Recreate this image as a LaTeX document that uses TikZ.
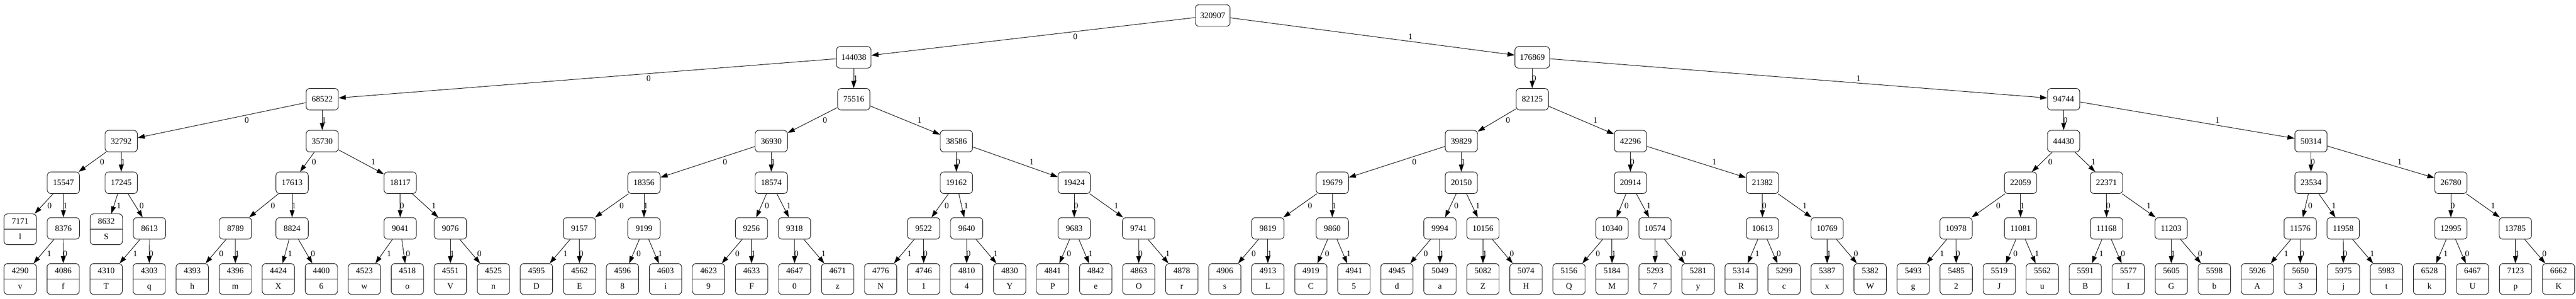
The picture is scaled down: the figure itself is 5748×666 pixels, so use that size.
\documentclass[tikz,border=0pt]{standalone}
\usepackage{fontspec}
\setmainfont{Liberation Serif}
\usetikzlibrary{arrows.meta,shapes.multipart,calc}
\tikzset{
  inode/.style={draw, line width=0.8pt, rounded corners=6pt, minimum width=54pt, minimum height=36pt, inner xsep=8pt, inner ysep=0pt},
  lnode/.style={draw, line width=0.8pt, rounded corners=6pt, rectangle split, rectangle split parts=2, text width=54pt, align=center, inner sep=0pt, anchor=north},
  edge/.style={line width=0.8pt, -{Triangle[length=12pt,width=8pt]}},
  elab/.style={inner sep=0pt},
}
\newcommand\lfstrut{\rule[-8.5pt]{0pt}{25pt}}
\newcommand\inn[3]{\node[inode] (n#3) at (#1,#2) {#3};}
\newcommand\lf[4]{\node[lnode] (n#3) at (#1,#2) {\lfstrut#3\nodepart{two}\lfstrut#4};}
\newcommand\edg[3]{\draw[edge] (n#1) -- (n#2);
  \path let \p1=(n#1), \p2=(n#2), \n1={abs(\x2-\x1)/abs(\y2-\y1)} in
   node[elab] (e#1-#2) at ({(\x1+\x2)/2+7.5*\n1+ifthenelse(\n1>0.05,6,3)}, {(\y1+\y2)/2}) {#3};}
\begin{document}
\begin{tikzpicture}[x=0.75pt, y=-0.75pt, font=\fontsize{14pt}{16.8pt}\selectfont]
\useasboundingbox (0,0) rectangle (5748,666);
% level 0-2
\inn{2706}{34.6}{320907}
\inn{1905}{128}{144038}
\inn{3419}{128}{176869}
\inn{719}{221.3}{68522}
\inn{1905}{221.3}{75516}
\inn{3419}{221.3}{82125}
\inn{4604.7}{221.3}{94744}
% level 3
\inn{270.5}{314.8}{32792}
\inn{719}{314.8}{35730}
\inn{1721}{314.8}{36930}
\inn{2134}{314.8}{38586}
\inn{3260.7}{314.8}{39829}
\inn{3638}{314.8}{42296}
\inn{4604.7}{314.8}{44430}
\inn{5156.6}{314.8}{50314}
% level 4
\inn{141.5}{407.6}{15547}
\inn{270.5}{407.6}{17245}
\inn{651.8}{407.6}{17613}
\inn{893}{407.6}{18117}
\inn{1437}{407.6}{18356}
\inn{1721}{407.6}{18574}
\inn{2134}{407.6}{19162}
\inn{2397}{407.6}{19424}
\inn{2972.8}{407.6}{19679}
\inn{3260.7}{407.6}{20150}
\inn{3638}{407.6}{20914}
\inn{3932.6}{407.6}{21382}
\inn{4508.5}{407.6}{22059}
\inn{4700.4}{407.6}{22371}
\inn{5156.6}{407.6}{23534}
\inn{5468.7}{407.6}{26780}
% level 5
\inn{141.5}{509.3}{8376}
\inn{333.5}{509.3}{8613}
\inn{525.4}{509.3}{8789}
\inn{651.8}{509.3}{8824}
\inn{893}{509.3}{9041}
\inn{1005}{509.3}{9076}
\inn{1293}{509.3}{9157}
\inn{1437}{509.3}{9199}
\inn{1676.8}{509.3}{9256}
\inn{1772.8}{509.3}{9318}
\inn{2061}{509.3}{9522}
\inn{2157}{509.3}{9640}
\inn{2397}{509.3}{9683}
\inn{2540.6}{509.3}{9741}
\inn{2829}{509.3}{9819}
\inn{2972.8}{509.3}{9860}
\inn{3213}{509.3}{9994}
\inn{3309}{509.3}{10156}
\inn{3597}{509.3}{10340}
\inn{3693}{509.3}{10574}
\inn{3932.6}{509.3}{10613}
\inn{4076.8}{509.3}{10769}
\inn{4364.7}{509.3}{10978}
\inn{4508.5}{509.3}{11081}
\inn{4700.4}{509.3}{11168}
\inn{4844.6}{509.3}{11203}
\inn{5132.6}{509.3}{11576}
\inn{5228.5}{509.3}{11958}
\inn{5468.7}{509.3}{12995}
\inn{5612.5}{509.3}{13785}
\lf{45}{476.3}{7171}{l}
\lf{237.3}{476.3}{8632}{S}
% leaves level 6
\lf{45}{587.3}{4290}{v}
\lf{141}{587.3}{4086}{f}
\lf{237}{587.3}{4310}{T}
\lf{333}{587.3}{4303}{q}
\lf{429}{587.3}{4393}{h}
\lf{525}{587.3}{4396}{m}
\lf{621}{587.3}{4424}{X}
\lf{717}{587.3}{4400}{6}
\lf{813}{587.3}{4523}{w}
\lf{909}{587.3}{4518}{o}
\lf{1005}{587.3}{4551}{V}
\lf{1101}{587.3}{4525}{n}
\lf{1197}{587.3}{4595}{D}
\lf{1293}{587.3}{4562}{E}
\lf{1389}{587.3}{4596}{8}
\lf{1485}{587.3}{4603}{i}
\lf{1581}{587.3}{4623}{9}
\lf{1677}{587.3}{4633}{F}
\lf{1773}{587.3}{4647}{0}
\lf{1869}{587.3}{4671}{z}
\lf{1965}{587.3}{4776}{N}
\lf{2061}{587.3}{4746}{1}
\lf{2157}{587.3}{4810}{4}
\lf{2253}{587.3}{4830}{Y}
\lf{2349}{587.3}{4841}{P}
\lf{2445}{587.3}{4842}{e}
\lf{2541}{587.3}{4863}{O}
\lf{2637}{587.3}{4878}{r}
\lf{2733}{587.3}{4906}{s}
\lf{2829}{587.3}{4913}{L}
\lf{2925}{587.3}{4919}{C}
\lf{3021}{587.3}{4941}{5}
\lf{3117}{587.3}{4945}{d}
\lf{3213}{587.3}{5049}{a}
\lf{3309}{587.3}{5082}{Z}
\lf{3405}{587.3}{5074}{H}
\lf{3501}{587.3}{5156}{Q}
\lf{3597}{587.3}{5184}{M}
\lf{3693}{587.3}{5293}{7}
\lf{3789}{587.3}{5281}{y}
\lf{3885}{587.3}{5314}{R}
\lf{3981}{587.3}{5299}{c}
\lf{4077}{587.3}{5387}{x}
\lf{4173}{587.3}{5382}{W}
\lf{4269}{587.3}{5493}{g}
\lf{4365}{587.3}{5485}{2}
\lf{4461}{587.3}{5519}{J}
\lf{4557}{587.3}{5562}{u}
\lf{4653}{587.3}{5591}{B}
\lf{4749}{587.3}{5577}{I}
\lf{4845}{587.3}{5605}{G}
\lf{4941}{587.3}{5598}{b}
\lf{5037}{587.3}{5926}{A}
\lf{5133}{587.3}{5650}{3}
\lf{5229}{587.3}{5975}{j}
\lf{5325}{587.3}{5983}{t}
\lf{5421}{587.3}{6528}{k}
\lf{5517}{587.3}{6467}{U}
\lf{5613}{587.3}{7123}{p}
\lf{5709}{587.3}{6662}{K}
% edges
\edg{320907}{144038}{0}
\edg{320907}{176869}{1}
\edg{144038}{68522}{0}
\edg{144038}{75516}{1}
\edg{176869}{82125}{0}
\edg{176869}{94744}{1}
\edg{68522}{32792}{0}
\edg{68522}{35730}{1}
\edg{75516}{36930}{0}
\edg{75516}{38586}{1}
\edg{82125}{39829}{0}
\edg{82125}{42296}{1}
\edg{94744}{44430}{0}
\edg{94744}{50314}{1}
\edg{32792}{15547}{0}
\edg{32792}{17245}{1}
\edg{35730}{17613}{0}
\edg{35730}{18117}{1}
\edg{36930}{18356}{0}
\edg{36930}{18574}{1}
\edg{38586}{19162}{0}
\edg{38586}{19424}{1}
\edg{39829}{19679}{0}
\edg{39829}{20150}{1}
\edg{42296}{20914}{0}
\edg{42296}{21382}{1}
\edg{44430}{22059}{0}
\edg{44430}{22371}{1}
\edg{50314}{23534}{0}
\edg{50314}{26780}{1}
\edg{15547}{7171}{0}
\edg{15547}{8376}{1}
\edg{17245}{8632}{1}
\edg{17245}{8613}{0}
\edg{17613}{8789}{0}
\edg{17613}{8824}{1}
\edg{18117}{9041}{0}
\edg{18117}{9076}{1}
\edg{18356}{9157}{0}
\edg{18356}{9199}{1}
\edg{18574}{9256}{0}
\edg{18574}{9318}{1}
\edg{19162}{9522}{0}
\edg{19162}{9640}{1}
\edg{19424}{9683}{0}
\edg{19424}{9741}{1}
\edg{19679}{9819}{0}
\edg{19679}{9860}{1}
\edg{20150}{9994}{0}
\edg{20150}{10156}{1}
\edg{20914}{10340}{0}
\edg{20914}{10574}{1}
\edg{21382}{10613}{0}
\edg{21382}{10769}{1}
\edg{22059}{10978}{0}
\edg{22059}{11081}{1}
\edg{22371}{11168}{0}
\edg{22371}{11203}{1}
\edg{23534}{11576}{0}
\edg{23534}{11958}{1}
\edg{26780}{12995}{0}
\edg{26780}{13785}{1}
\edg{8376}{4290}{1}
\edg{8376}{4086}{0}
\edg{8613}{4310}{1}
\edg{8613}{4303}{0}
\edg{8789}{4393}{0}
\edg{8789}{4396}{1}
\edg{8824}{4424}{1}
\edg{8824}{4400}{0}
\edg{9041}{4523}{1}
\edg{9041}{4518}{0}
\edg{9076}{4551}{1}
\edg{9076}{4525}{0}
\edg{9157}{4595}{1}
\edg{9157}{4562}{0}
\edg{9199}{4596}{0}
\edg{9199}{4603}{1}
\edg{9256}{4623}{0}
\edg{9256}{4633}{1}
\edg{9318}{4647}{0}
\edg{9318}{4671}{1}
\edg{9522}{4776}{1}
\edg{9522}{4746}{0}
\edg{9640}{4810}{0}
\edg{9640}{4830}{1}
\edg{9683}{4841}{0}
\edg{9683}{4842}{1}
\edg{9741}{4863}{0}
\edg{9741}{4878}{1}
\edg{9819}{4906}{0}
\edg{9819}{4913}{1}
\edg{9860}{4919}{0}
\edg{9860}{4941}{1}
\edg{9994}{4945}{0}
\edg{9994}{5049}{1}
\edg{10156}{5082}{1}
\edg{10156}{5074}{0}
\edg{10340}{5156}{0}
\edg{10340}{5184}{1}
\edg{10574}{5293}{1}
\edg{10574}{5281}{0}
\edg{10613}{5314}{1}
\edg{10613}{5299}{0}
\edg{10769}{5387}{1}
\edg{10769}{5382}{0}
\edg{10978}{5493}{1}
\edg{10978}{5485}{0}
\edg{11081}{5519}{0}
\edg{11081}{5562}{1}
\edg{11168}{5591}{1}
\edg{11168}{5577}{0}
\edg{11203}{5605}{1}
\edg{11203}{5598}{0}
\edg{11576}{5926}{1}
\edg{11576}{5650}{0}
\edg{11958}{5975}{0}
\edg{11958}{5983}{1}
\edg{12995}{6528}{1}
\edg{12995}{6467}{0}
\edg{13785}{7123}{1}
\edg{13785}{6662}{0}
\end{tikzpicture}
\end{document}
